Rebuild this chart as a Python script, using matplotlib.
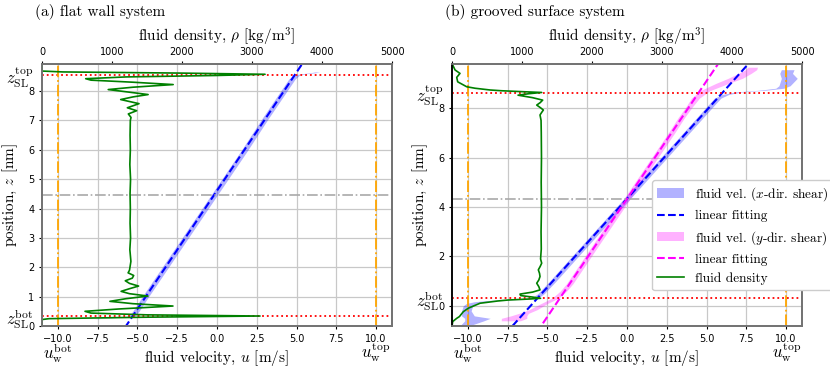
import numpy as np
import matplotlib.pyplot as plt
from matplotlib.patches import Patch
from matplotlib.lines import Line2D

plt.rcParams['mathtext.fontset'] = 'cm'
plt.rcParams['axes.unicode_minus'] = True

# ---------------- (a) flat wall system ----------------
zlim_a = (0.0, 8.92)
zsl_a = (0.34, 8.55)          # z_SL bot / top
zmid_a = 4.45
fit_a = (1.241, -5.72)        # slope, intercept of linear fit u(z)

vz_a = [0.25, 0.28, 0.31, 0.34, 0.5, 1.0, 2.0, 3.0, 4.0, 5.0, 6.0, 7.0, 8.0, 8.4, 8.55, 8.59, 8.62, 8.65]
vu_a = [-7.6, -6.8, -5.8, -5.35, -5.1, -4.5, -3.25, -2.0, -0.75, 0.5, 1.75, 2.95, 4.2, 4.7, 5.0, 5.5, 6.0, 6.3]
ve_a = [0.15, 0.15, 0.2, 0.2, 0.2, 0.2, 0.2, 0.2, 0.2, 0.2, 0.2, 0.2, 0.2, 0.2, 0.2, 0.15, 0.15, 0.15]

rz_a = [0.00, 0.22, 0.25, 0.30, 0.34, 0.38, 0.44, 0.50, 0.58, 0.68, 0.76, 0.84, 0.93, 1.02, 1.10,
        1.18, 1.27, 1.36, 1.45, 1.54, 1.63, 1.72, 1.81, 1.90, 2.2, 2.6, 3.0, 3.5, 4.0, 4.5, 5.0,
        5.5, 6.0, 6.5, 7.0, 7.10, 7.22, 7.33, 7.43, 7.57, 7.71, 7.80, 7.88, 7.96, 8.05, 8.13, 8.22,
        8.30, 8.37, 8.42, 8.48, 8.53, 8.57, 8.61, 8.65, 8.68, 8.92]
rho_a = [0, 0, 100, 1500, 3114, 1500, 700, 614, 1100, 1871, 1300, 970, 1200, 1514, 1250,
         1130, 1250, 1380, 1250, 1190, 1290, 1310, 1230, 1250, 1270, 1255, 1265, 1258, 1262, 1258, 1265,
         1255, 1262, 1258, 1262, 1272, 1233, 1352, 1219, 1386, 1124, 1300, 1516, 1250, 946, 1300, 1874,
         1300, 700, 624, 1200, 2500, 3186, 2000, 300, 0, 0]

# ---------------- (b) grooved surface system ----------------
zlim_b = (-0.81, 9.78)
zsl_b = (0.32, 8.6)
zmid_b = 4.33
fit_bx = (1.40, -6.07)
fit_by = (1.05, -4.55)

vz_bx = [-0.80, -0.60, -0.50, -0.40, -0.20, 0.00, 0.10, 0.17, 0.22, 0.27, 0.32, 0.50, 1.0, 2.0, 3.0,
         4.0, 5.0, 6.0, 7.0, 7.8, 8.2, 8.4, 8.55, 8.65, 8.72, 8.80, 8.90, 9.0, 9.2, 9.4, 9.55]
vu_bx = [-10.2, -9.6, -9.4, -10.0, -10.1, -10.0, -9.8, -9.3, -8.5, -7.0, -5.8, -5.4, -4.67, -3.27, -1.87,
         -0.47, 0.93, 2.33, 3.73, 4.85, 5.41, 5.7, 6.2, 7.0, 8.5, 9.6, 9.9, 10.0, 10.2, 10.0, 10.1]
ve_bx = [0.3, 0.6, 0.8, 0.4, 0.3, 0.3, 0.3, 0.3, 0.3, 0.3, 0.2, 0.2, 0.2, 0.2, 0.2,
         0.2, 0.2, 0.2, 0.2, 0.2, 0.2, 0.2, 0.2, 0.2, 0.2, 0.25, 0.35, 0.4, 0.5, 0.4, 0.4]

vz_by = [-0.60, -0.50, -0.40, -0.30, -0.15, 0.10, 0.32, 0.60, 0.90, 2.0, 3.0, 4.0, 5.0, 6.0, 7.0,
         7.6, 8.0, 8.4, 8.7, 9.0, 9.2, 9.4, 9.55, 9.65]
vu_by = [-7.3, -7.1, -6.8, -6.5, -5.9, -5.2, -4.5, -4.0, -3.6, -2.45, -1.4, -0.35, 0.7, 1.75, 2.8,
         3.4, 3.85, 4.3, 4.9, 6.0, 6.8, 7.4, 7.8, 7.9]
ve_by = [0.6, 0.8, 0.5, 0.3, 0.25, 0.2, 0.2, 0.2, 0.2, 0.2, 0.2, 0.2, 0.2, 0.2, 0.2,
         0.2, 0.2, 0.25, 0.3, 0.4, 0.45, 0.4, 0.35, 0.3]

rz_b = [-0.81, -0.63, -0.50, -0.43, -0.23, -0.09, 0.11, 0.20, 0.24, 0.28, 0.31, 0.36, 0.42, 0.48, 0.56,
        0.65, 0.78, 0.92, 1.05, 1.19, 1.32, 1.46, 1.60, 1.73, 1.90, 2.3, 3.0, 4.0, 5.0, 6.0, 7.0,
        7.5, 7.72, 7.82, 7.92, 8.02, 8.12, 8.22, 8.32, 8.42, 8.52, 8.58, 8.63, 8.66, 8.70, 8.73,
        8.80, 8.86, 9.06, 9.24, 9.40, 9.54, 9.74, 9.78]
rho_b = [0, 10, 67, 105, 162, 233, 400, 650, 800, 1100, 1265, 1150, 980, 971, 1150,
         1257, 1240, 1210, 1240, 1257, 1250, 1233, 1260, 1281, 1265, 1275, 1272, 1278, 1274, 1278, 1275,
         1272, 1257, 1280, 1305, 1260, 1210, 1260, 1295, 1150, 943, 1100, 1281, 1019, 700, 543,
         330, 210, 81, 67, 114, 43, 10, 0]

u_wall = (-10.0, 10.0)
xticks = [-10.0, -7.5, -5.0, -2.5, 0.0, 2.5, 5.0, 7.5, 10.0]
rho_ticks = [0, 1000, 2000, 3000, 4000, 5000]

fig = plt.figure(figsize=(8.3, 3.67), dpi=100)
cm_font = 'cmr10'


def panel(pos, title, tpos, zlim, zsl, zmid, yticks, bands, fits, rz, rho, black_left=False):
    ax = fig.add_axes(pos)
    ax.set_axisbelow(True)
    ax.grid(color='#c8c8c8', linewidth=0.9)
    for vz, vu, ve, col in bands:
        vu = np.array(vu)
        ve = np.array(ve)
        ax.fill_betweenx(vz, vu - ve, vu + ve, color=col, alpha=0.3, linewidth=0)
    zz = np.array([zlim[0] - 1, zlim[1] + 1])
    for (k, b), col in fits:
        ax.plot(k * zz + b, zz, '--', color=col, linewidth=1.5)
    for z in zsl:
        ax.axhline(z, color='red', linestyle=':', linewidth=1.3)
    ax.axhline(zmid, color='darkgray', linestyle='-.', linewidth=1.2)
    for u in u_wall:
        ax.axvline(u, color='orange', linestyle='-.', linewidth=1.3)
    ax.set_xlim(-11, 11)
    ax.set_ylim(*zlim)
    ax.xaxis.remove_overlapping_locs = False
    ax.set_xticks(xticks)
    ax.set_yticks(yticks)
    ax.tick_params(labelsize=7, length=2.5, pad=3)
    ax.set_yticks(zsl, labels=[r'$z_\mathrm{SL}^\mathrm{bot}$', r'$z_\mathrm{SL}^\mathrm{top}$'], minor=True)
    ax.set_xticks(u_wall, labels=[r'$u_\mathrm{w}^\mathrm{bot}$', r'$u_\mathrm{w}^\mathrm{top}$'], minor=True)
    ax.tick_params(axis='y', which='minor', length=0, labelsize=12, pad=6.5)
    ax.tick_params(axis='x', which='minor', length=0, labelsize=12, pad=11)
    ax.set_xlabel(r'fluid velocity, $u$ [m/s]', fontfamily=cm_font, fontsize=11)
    ax.xaxis.set_label_coords(0.5, -0.085)
    ax.set_ylabel(r'position, $z$ [nm]', fontfamily=cm_font, fontsize=11)
    ax.yaxis.set_label_coords(-0.063, 0.5)

    ax2 = ax.twiny()
    ax2.plot(rho, rz, color='green', linewidth=1.2)
    ax2.set_xlim(0, 5000)
    ax2.set_xticks(rho_ticks)
    ax2.tick_params(labelsize=7, length=2.5, pad=2.5)
    ax2.set_xlabel(r'fluid density, $\rho$ [kg/m$^3$]', fontfamily=cm_font, fontsize=11)
    ax2.xaxis.set_label_coords(0.5, 1.085)
    for a in (ax, ax2):
        for s in a.spines.values():
            s.set_color('0.45')
            s.set_linewidth(1.3)
    if black_left:
        ax2.spines['left'].set_color('black')
    fig.text(tpos, 0.99, title, fontfamily=cm_font, fontsize=11, va='top')
    return ax, ax2


panel([0.0506, 0.1117, 0.4217, 0.7139], '(a) flat wall system', 0.042,
      zlim_a, zsl_a, zmid_a, range(0, 9),
      [(vz_a, vu_a, ve_a, 'blue')], [(fit_a, 'blue')], rz_a, rho_a)

axb, axb2 = panel([0.5446, 0.1117, 0.4217, 0.7139], '(b) grooved surface system', 0.536,
                  zlim_b, zsl_b, zmid_b, range(0, 9, 2),
                  [(vz_bx, vu_bx, ve_bx, 'blue'), (vz_by, vu_by, ve_by, 'magenta')],
                  [(fit_bx, 'blue'), (fit_by, 'magenta')], rz_b, rho_b, black_left=True)

handles = [Patch(color='blue', alpha=0.3, linewidth=0),
           Line2D([], [], color='blue', linestyle='--', linewidth=1.5),
           Patch(color='magenta', alpha=0.3, linewidth=0),
           Line2D([], [], color='magenta', linestyle='--', linewidth=1.5),
           Line2D([], [], color='green', linewidth=1.2)]
labels = [r'fluid vel. ($x$-dir. shear)', 'linear fitting',
          r'fluid vel. ($y$-dir. shear)', 'linear fitting', 'fluid density']
leg = axb2.legend(handles, labels, loc='upper left', bbox_to_anchor=(0.571, 0.557),
                  prop={'family': cm_font, 'size': 9.6}, framealpha=1.0,
                  borderaxespad=0, handlelength=2.0)

plt.savefig('out.png', dpi=100)
